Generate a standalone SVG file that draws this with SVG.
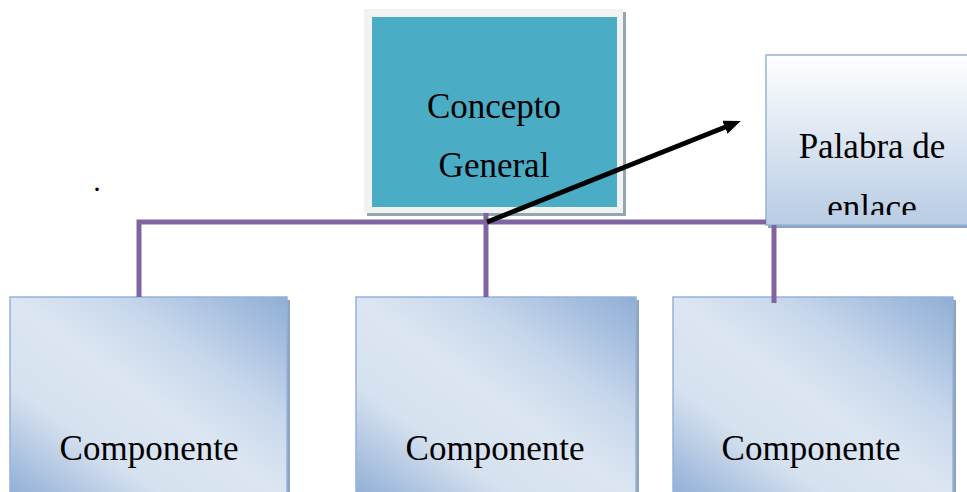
<svg xmlns="http://www.w3.org/2000/svg" width="967" height="492" viewBox="0 0 967 492">
<style>
.lbl{font-family:"Liberation Serif","Times New Roman","DejaVu Serif",serif;font-size:35px;fill:#000;text-anchor:middle}
.comp{fill:url(#gComp);stroke:#95B3D7;stroke-width:1.5}
.shadow{fill:#8EA3BE}
.link{stroke:#8064A2;stroke-width:5;fill:none}
</style>
<defs>
<linearGradient id="gComp" x1="1" y1="0" x2="0" y2="1">
<stop offset="0" stop-color="#8FAED6"/>
<stop offset="0.3" stop-color="#C6D6EB"/>
<stop offset="0.5" stop-color="#DCE6F2"/>
<stop offset="0.72" stop-color="#D6E1EF"/>
<stop offset="1" stop-color="#8FAED6"/>
</linearGradient>
<linearGradient id="gPal" x1="0" y1="0" x2="0" y2="1">
<stop offset="0" stop-color="#FFFFFF"/>
<stop offset="1" stop-color="#B8CCE4"/>
</linearGradient>
<clipPath id="palClip"><rect x="767" y="56" width="210" height="159"/></clipPath>
<marker id="arr" markerUnits="userSpaceOnUse" markerWidth="18" markerHeight="16" refX="6" refY="7" orient="auto">
<path d="M0,0 L17,7 L0,14 Z" fill="#000"/>
</marker>
</defs>
<rect width="967" height="492" fill="#FFFFFF"/>
<text class="lbl" x="97" y="191" style="font-size:30px">.</text>
<g id="concepto">
<rect x="367" y="12" width="259" height="204" fill="#93A8AE"/>
<rect x="364" y="9" width="259" height="204" fill="#F2F2F2"/>
<rect x="372" y="17" width="245" height="190" fill="#4BACC6"/>
<text class="lbl" x="494" y="118">Concepto</text>
<text class="lbl" x="494" y="177">General</text>
</g>
<g id="palabra">
<rect x="768" y="58" width="210" height="170" class="shadow"/>
<rect x="766" y="55" width="210" height="170" fill="url(#gPal)" stroke="#95B3D7" stroke-width="1.5"/>
<g clip-path="url(#palClip)">
<text class="lbl" x="872" y="158">Palabra de</text>
<text class="lbl" x="872" y="219">enlace</text>
</g>
</g>
<g id="comp1">
<rect x="13" y="300" width="277" height="200" class="shadow"/>
<rect x="10" y="297" width="277" height="200" class="comp"/>
<text class="lbl" x="149" y="460">Componente</text>
</g>
<g id="comp2">
<rect x="359" y="300" width="280" height="200" class="shadow"/>
<rect x="356" y="297" width="280" height="200" class="comp"/>
<text class="lbl" x="495" y="460">Componente</text>
</g>
<g id="comp3">
<rect x="676" y="300" width="280" height="200" class="shadow"/>
<rect x="673" y="297" width="280" height="200" class="comp"/>
<text class="lbl" x="811" y="460">Componente</text>
</g>
<g id="connectors">
<path class="link" d="M139,297 V222 H766"/>
<path class="link" d="M486,213 V297"/>
<path class="link" d="M774,225 V303"/>
<line x1="487" y1="222" x2="730.5" y2="125" stroke="#000" stroke-width="5" marker-end="url(#arr)"/>
</g>
</svg>
